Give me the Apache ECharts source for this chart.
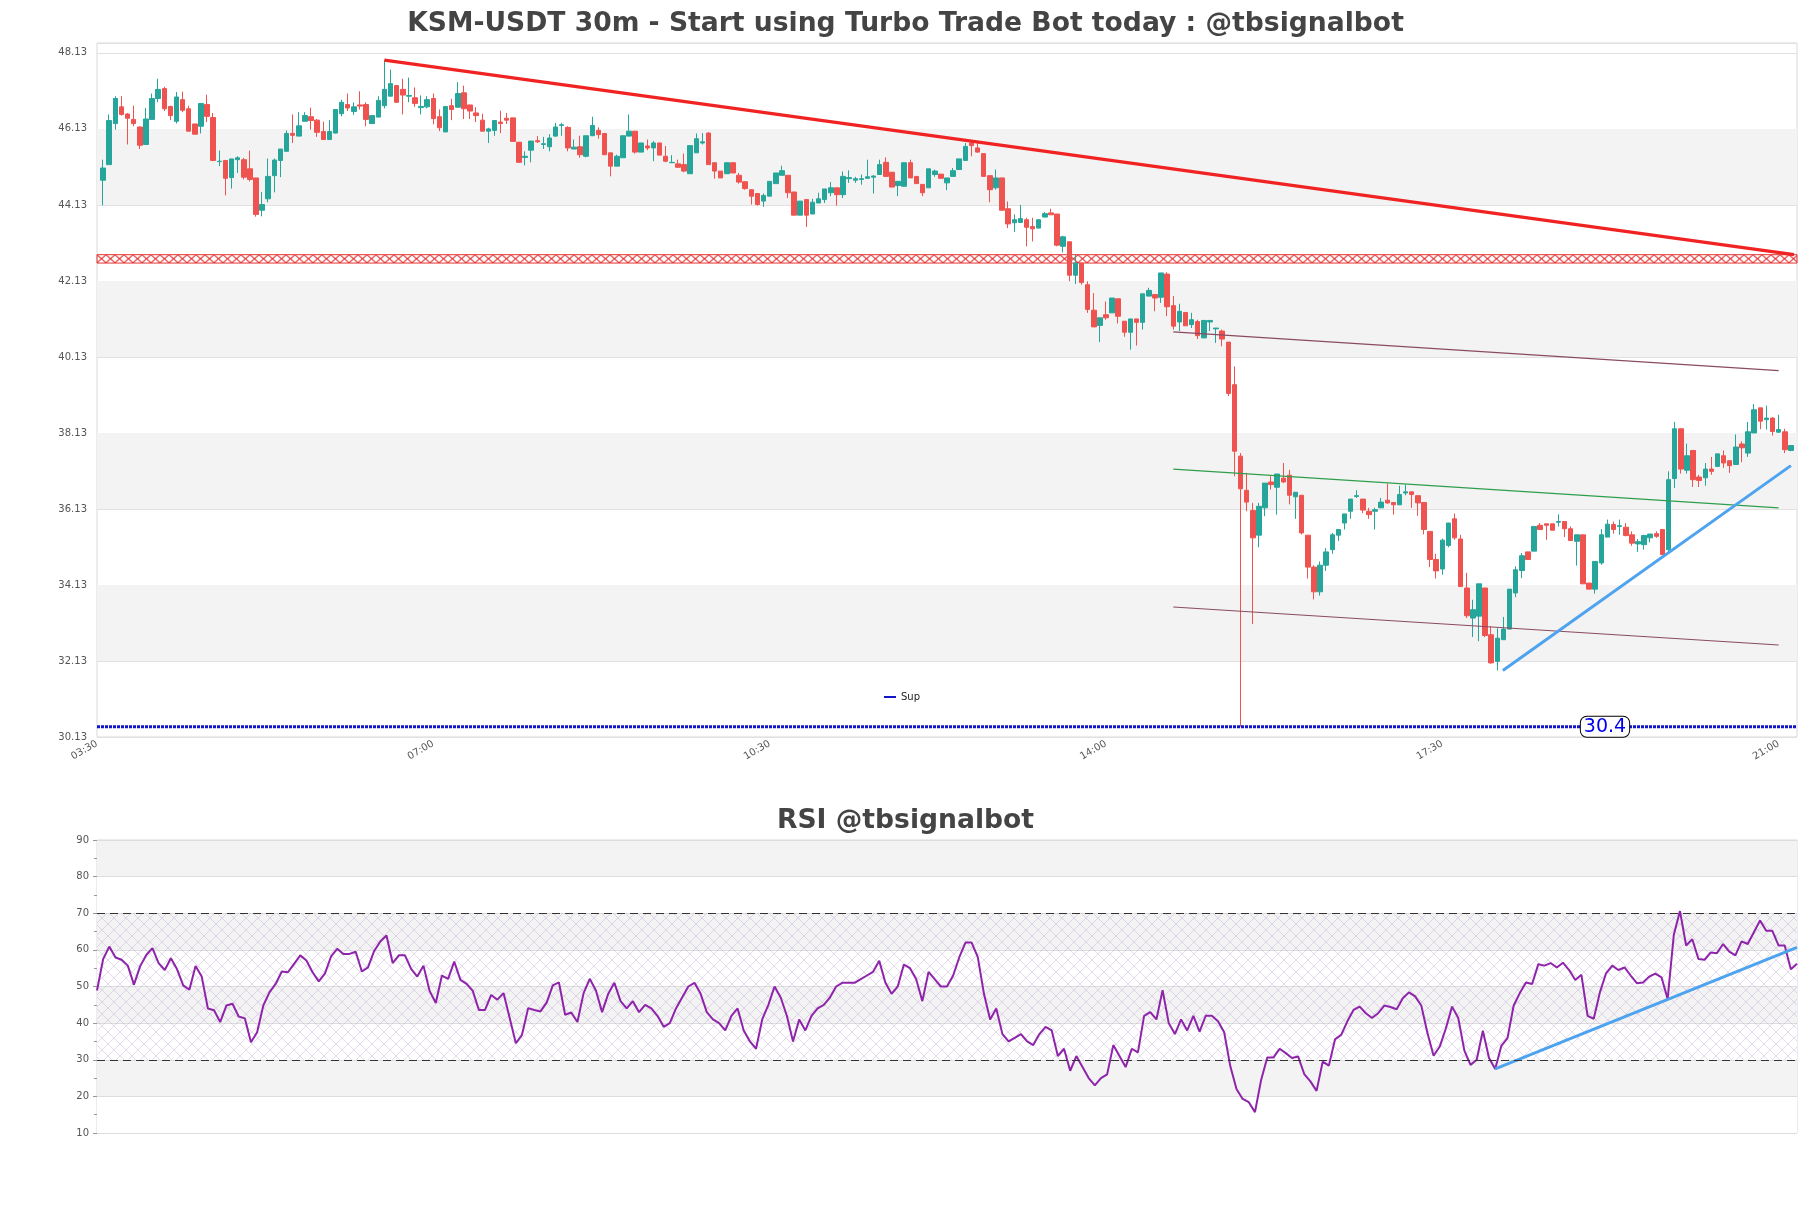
<!DOCTYPE html>
<html>
<head>
<meta charset="utf-8">
<script src="https://cdn.jsdelivr.net/npm/echarts@6/dist/echarts.min.js"></script>
<style>
html,body{margin:0;padding:0;background:#fff;}
#main{width:1811px;height:1208px;}
</style>
</head>
<body>
<div id="main"></div>
<script>
// ---------------- DATA ----------------
const mainTitle = 'KSM-USDT 30m - Start using Turbo Trade Bot today : @tbsignalbot';
const rsiTitle = 'RSI @tbsignalbot';
const timeLabels = ['03:30', '07:00', '10:30', '14:00', '17:30', '21:00'];
const timeTickStart = -1;   // candle index of first time label
const timeTickStep = 55;    // candles between time labels
const priceTickStart = 30.13;
const priceTickStep = 2;
const priceMax = 48.39;

// candles: [open, close, low, high]
const ohlc = [
[44.78,45.10,44.12,45.32],[45.19,46.35,45.19,46.51],[46.27,46.93,46.11,46.99],[46.71,46.51,46.48,46.99],
[46.52,46.41,45.72,46.55],[46.38,46.27,46.20,46.74],[46.18,45.70,45.60,46.20],[45.72,46.39,45.72,46.68],
[46.38,46.93,46.38,47.06],[46.93,47.17,46.83,47.45],[47.19,46.66,46.60,47.24],[46.72,46.48,46.36,46.74],
[46.33,46.97,46.27,47.10],[46.90,46.62,46.57,47.11],[46.66,46.07,46.07,46.74],[46.26,45.99,45.99,46.26],
[46.20,46.80,46.01,46.80],[46.77,46.46,46.31,47.03],[46.43,45.30,45.28,46.55],[45.27,45.28,45.15,45.56],
[45.30,44.83,44.38,45.30],[44.85,45.34,44.56,45.34],[45.32,45.37,44.97,45.41],[45.32,44.86,44.80,45.37],
[45.08,44.80,44.75,45.56],[44.84,43.88,43.82,44.84],[43.99,44.14,43.83,44.47],[44.29,44.88,44.20,45.35],
[44.90,45.31,44.46,45.35],[45.30,45.60,44.86,45.60],[45.54,46.01,45.54,46.09],[46.01,45.96,45.76,46.51],
[45.94,46.21,45.94,46.57],[46.33,46.48,46.33,46.57],[46.45,46.35,46.11,46.69],[46.36,46.04,45.92,46.39],
[46.06,45.85,45.85,46.32],[45.85,46.06,45.85,46.36],[46.02,46.64,46.01,46.64],[46.53,46.83,46.46,46.90],
[46.77,46.68,46.60,47.06],[46.59,46.71,46.50,46.83],[46.76,46.73,46.64,47.12],[46.77,46.38,46.20,46.83],
[46.27,46.48,46.27,46.48],[46.44,46.88,46.44,46.99],[46.74,47.17,46.67,47.94],[46.99,47.32,46.99,47.69],
[47.27,46.83,46.81,47.27],[47.17,47.02,46.51,47.45],[46.99,47.01,46.83,47.48],[46.95,46.80,46.71,47.22],
[46.69,46.72,46.51,47.01],[46.71,46.90,46.67,46.99],[46.93,46.40,46.25,47.06],[46.45,46.16,46.07,46.64],
[46.05,46.72,46.05,46.72],[46.74,46.64,46.36,46.92],[46.70,47.06,46.70,47.36],[47.08,46.66,46.39,47.27],
[46.76,46.60,46.39,46.76],[46.55,46.48,46.31,46.70],[46.36,46.07,46.07,46.53],[46.07,46.13,45.76,46.16],
[46.09,46.35,45.95,46.35],[46.31,46.27,46.02,46.61],[46.41,46.36,46.26,46.55],[46.42,45.80,45.80,46.42],
[45.78,45.25,45.25,45.78],[45.38,45.41,45.17,45.54],[45.57,45.81,45.25,45.81],[45.82,45.79,45.76,45.94],
[45.72,45.74,45.60,45.92],[45.66,45.89,45.54,45.99],[45.94,46.18,45.92,46.29],[46.22,46.24,45.95,46.29],
[46.17,45.63,45.54,46.20],[45.60,45.65,45.60,45.85],[45.66,45.45,45.37,45.95],[45.41,45.95,45.38,45.95],
[45.95,46.22,45.95,46.45],[46.09,45.98,45.87,46.17],[46.01,45.45,45.45,46.01],[45.50,45.15,44.88,45.50],
[45.15,45.41,45.15,45.45],[45.37,45.95,45.37,45.95],[45.94,46.07,45.94,46.51],[46.07,45.52,45.48,46.07],
[45.52,45.76,45.52,45.76],[45.68,45.63,45.57,45.85],[45.63,45.76,45.28,45.81],[45.76,45.44,45.44,45.76],
[45.41,45.28,45.25,45.68],[45.24,45.25,45.24,45.44],[45.21,45.12,45.10,45.32],[45.19,45.02,44.99,45.48],
[44.95,45.69,44.95,45.69],[45.50,45.87,45.50,46.01],[45.76,45.79,45.72,46.02],[46.02,45.19,45.19,46.04],
[45.24,45.02,44.82,45.24],[45.02,44.84,44.84,45.02],[44.95,45.24,44.95,45.24],[45.24,44.97,44.97,45.24],
[44.91,44.73,44.69,44.97],[44.74,44.56,44.53,44.74],[44.53,44.36,44.14,44.53],[44.43,44.14,44.11,44.43],
[44.23,44.38,44.08,44.43],[44.36,44.75,44.36,44.75],[44.69,44.97,44.69,44.97],[44.91,45.03,44.91,45.16],
[44.91,44.45,44.31,44.91],[44.47,43.86,43.86,44.47],[43.86,44.23,43.86,44.23],[44.27,43.86,43.55,44.27],
[43.89,44.20,43.89,44.29],[44.18,44.29,44.18,44.45],[44.27,44.55,44.18,44.55],[44.45,44.58,44.36,44.73],
[44.58,44.40,44.11,44.58],[44.40,44.88,44.31,45.01],[44.82,44.85,44.71,45.04],[44.78,44.82,44.71,44.87],
[44.80,44.82,44.66,44.93],[44.83,44.87,44.83,45.32],[44.86,44.89,44.43,44.91],[44.93,45.19,44.93,45.32],
[45.25,44.88,44.88,45.38],[44.99,44.60,44.60,44.99],[44.64,44.75,44.36,44.75],[44.62,45.24,44.62,45.24],
[45.24,44.84,44.84,45.32],[44.88,44.69,44.69,44.88],[44.67,44.45,44.36,44.67],[44.58,45.08,44.58,45.08],
[44.93,45.02,44.87,45.06],[44.94,44.83,44.83,44.94],[44.71,44.84,44.52,44.84],[44.88,45.03,44.88,45.10],
[45.06,45.34,45.06,45.34],[45.30,45.67,45.30,45.76],[45.76,45.69,45.41,45.80],[45.63,45.52,45.50,45.76],
[45.48,44.88,44.88,45.48],[44.90,44.53,44.20,44.90],[44.58,44.84,44.53,45.06],[44.84,43.99,43.99,44.84],
[44.03,43.63,43.52,44.22],[43.66,43.74,43.42,43.88],[43.67,43.77,43.66,44.13],[43.74,43.54,43.04,43.79],
[43.56,43.50,43.17,43.79],[43.52,43.74,43.52,43.74],[43.81,43.90,43.81,43.94],[43.92,43.87,43.87,44.03],
[43.89,43.07,43.04,43.89],[43.04,43.29,42.88,43.32],[43.16,42.28,42.12,43.16],[42.28,42.60,42.05,42.82],
[42.60,42.09,42.03,42.60],[42.03,41.38,41.29,42.12],[41.36,40.92,40.92,41.81],[40.96,41.16,40.52,41.16],
[41.24,41.16,41.11,41.59],[41.29,41.68,41.29,41.68],[41.66,41.20,41.01,41.66],[41.07,40.78,40.66,41.07],
[40.78,41.13,40.32,41.13],[41.13,41.04,40.43,41.13],[41.04,41.79,40.85,41.79],[41.73,41.88,41.73,41.95],
[41.77,41.68,41.33,41.77],[41.70,42.34,41.55,42.34],[42.31,41.45,41.20,42.36],[41.48,40.94,40.85,41.73],
[41.05,41.33,40.81,41.53],[41.30,40.95,40.95,41.30],[40.98,41.11,40.89,41.29],[41.06,40.69,40.60,41.11],
[40.63,41.09,40.63,41.09],[41.05,41.09,40.81,41.09],[40.87,40.89,40.50,40.89],[40.81,40.60,40.41,40.85],
[40.52,39.17,39.10,40.52],[39.40,37.65,36.99,39.88],[37.52,36.66,30.40,37.60],[36.62,36.31,36.07,37.08],
[36.09,35.37,33.10,36.29],[35.44,36.20,35.12,36.29],[36.16,36.81,35.94,36.81],[36.84,36.77,36.64,36.99],
[36.70,37.05,35.98,37.05],[36.94,36.84,36.81,37.34],[37.02,36.49,36.25,37.16],[36.45,36.57,35.87,36.57],
[36.49,35.50,35.46,36.49],[35.44,34.60,34.30,35.44],[34.60,33.95,33.75,34.65],[33.95,34.65,33.85,34.75],
[34.65,35.00,34.50,35.10],[35.06,35.45,34.95,35.50],[35.44,35.59,35.29,35.59],[35.76,36.00,35.59,36.00],
[36.07,36.39,35.87,36.39],[36.46,36.48,36.42,36.62],[36.39,36.10,36.02,36.39],[36.07,35.98,35.87,36.16],
[36.07,36.11,35.59,36.16],[36.16,36.31,36.16,36.42],[36.36,36.29,36.27,36.80],[36.30,36.24,35.98,36.30],
[36.24,36.51,36.24,36.74],[36.55,36.58,36.49,36.77],[36.58,36.51,36.16,36.58],[36.48,36.29,35.95,36.48],
[36.30,35.59,35.46,36.30],[35.54,34.80,34.60,35.54],[34.80,34.50,34.30,34.95],[34.55,35.31,34.40,35.35],
[35.17,35.76,35.12,35.76],[35.87,35.37,35.32,36.01],[35.34,34.09,34.09,35.45],[34.05,33.32,33.26,34.45],
[33.26,33.48,32.76,33.74],[33.31,34.16,32.65,34.16],[34.05,32.80,32.76,34.05],[32.82,32.08,32.06,33.04],
[32.12,32.73,31.88,32.99],[32.69,32.97,32.69,33.29],[32.97,34.02,32.97,34.02],[33.92,34.53,33.81,34.62],
[34.51,34.90,34.31,34.97],[35.00,34.80,34.80,35.00],[35.02,35.67,35.02,35.67],[35.70,35.59,35.59,35.76],
[35.74,35.70,35.32,35.74],[35.74,35.57,35.57,35.74],[35.78,35.80,35.67,35.99],[35.80,35.61,35.39,35.80],
[35.61,35.30,35.30,35.67],[35.28,35.45,34.64,35.45],[35.45,34.16,34.16,35.45],[34.18,34.02,34.02,34.18],
[34.02,34.75,33.90,34.75],[34.71,35.45,34.66,35.60],[35.39,35.73,35.39,35.85],[35.72,35.59,35.48,35.80],
[35.67,35.69,35.45,35.85],[35.65,35.43,35.41,35.76],[35.45,35.23,35.16,35.54],[35.21,35.27,35.00,35.34],
[35.19,35.43,35.06,35.45],[35.37,35.47,35.25,35.47],[35.48,35.41,35.37,35.54],[35.59,34.93,34.93,35.60],
[35.06,36.90,35.02,37.12],[36.93,38.24,36.68,38.42],[38.24,37.18,37.06,38.24],[37.15,37.53,37.06,37.85],
[37.67,36.90,36.71,37.67],[36.97,36.88,36.71,37.03],[36.95,37.18,36.74,37.34],[37.18,37.12,37.03,37.50],
[37.25,37.58,37.25,37.58],[37.53,37.34,37.21,37.67],[37.40,37.27,37.08,37.40],[37.30,37.76,37.30,38.09],
[37.84,37.74,37.36,37.91],[37.60,38.16,37.50,38.42],[38.13,38.74,38.13,38.89],[38.79,38.44,38.23,38.79],
[38.48,38.52,38.22,38.85],[38.52,38.17,38.06,38.55],[38.15,38.22,38.13,38.61],[38.16,37.69,37.60,38.24],
[37.67,37.80,37.65,37.80]
];

const rsi = [
48.9,57.5,60.9,57.9,57.3,55.7,50.5,55.5,58.6,60.5,56.4,54.5,57.7,54.7,50.3,49.1,55.6,52.7,44.0,43.5,
40.3,44.8,45.3,41.8,41.3,34.8,37.5,44.8,48.4,50.7,54.1,53.9,56.2,58.5,57.1,53.9,51.4,53.5,58.2,60.3,
58.9,58.9,59.5,54.1,55.2,59.7,62.3,63.9,56.4,58.5,58.5,54.8,52.7,55.7,48.8,45.5,53.0,52.1,56.8,51.8,
50.7,48.8,43.6,43.6,47.7,46.4,48.2,41.4,34.5,36.8,44.1,43.6,43.2,45.6,50.3,51.1,42.3,42.9,40.3,48.2,
52.1,48.9,43,48,51,46,44,46,43,45,44,42,39,40,44,47,50,51,48,43,
41,40,38,42,44,38,35,33,41,45,50,47,42,35,41,38,42,44,45,47,
50,51,51,51,52,53,54,57,51,48,50,56,55,52,46,54,52,50,50,53,
58,62,62,58,48,41,44,37,35,36,37,35,34,37,39,38,31,33,27,31,
28,25,23,25,26,34,31,28,33,32,42,43,41,49,40,37,41,38,42,
37.7,42.0,42.0,40.5,37.5,28.2,22.0,19.3,18.4,15.7,24.5,30.6,30.6,33.0,31.8,30.5,30.9,26.1,24.1,21.5,
29.5,28.4,35.6,36.8,40.5,43.6,44.5,42.7,41.4,42.7,44.8,44.4,43.8,46.8,48.4,47.3,44.8,37.3,31.1,33.6,
38.6,44.5,41.4,32.5,28.6,30.0,37.9,30.5,27.5,33.8,35.9,44.8,48.2,51.1,50.7,56.1,55.7,56.4,55.2,56.5,
54.5,51.8,53.2,42.0,41.2,48.4,53.6,55.7,54.5,55.2,53.0,50.9,51.1,52.7,53.5,52.5,46.6,64.1,70.6,61.2,
62.9,57.5,57.3,59.3,59.1,61.6,59.5,58.5,62.3,61.6,64.8,68.0,65.2,65.2,61.2,61.2,54.7,56.2
];

// drawn lines: [candle index, price]
const resistanceLine = [[46, 47.94], [276.5, 42.82]];
const channelUpper = [[175, 40.79], [274, 39.77]];
const channelMid = [[175, 37.18], [274, 36.16]];
const channelLower = [[175, 33.55], [274, 32.55]];
const supportTrend = [[228.9, 31.88], [276, 37.27]];
const supLevel = 30.4;
const resistanceZone = [42.60, 42.82];
const rsiTrend = [[227, 27.5], [276, 60.7]];
const rsiLevels = [30, 70];

// ---------------- LAYOUT / STYLE ----------------
const FONT = 'DejaVu Sans';
const xMin = -1, xMax = 277;
const supLabelAt = 245.6;
const UP = '#26a69a', DOWN = '#ef5350';
const SUP_COLOR = '#1414c8';

const candleData = ohlc.map((c, i) => [i, c[0], c[1], c[2], c[3]]);
const rsiData = rsi.map((v, i) => [i, v]);
const priceTicks = [];
for (let v = priceTickStart; v <= priceMax + 1e-9; v += priceTickStep) priceTicks.push(+v.toFixed(2));
const grayBands = [];
for (let k = 1; k + 1 < priceTicks.length; k += 2) grayBands.push([{yAxis: priceTicks[k]}, {yAxis: priceTicks[k + 1]}]);

function tile(w, h, draw) {
  const c = document.createElement('canvas');
  c.width = w; c.height = h;
  draw(c.getContext('2d'), w, h);
  return c;
}
const rsiHatch = tile(12, 12, (g, w, h) => {
  g.strokeStyle = 'rgba(185,160,205,0.55)'; g.lineWidth = 0.7;
  g.beginPath(); g.moveTo(0, 0); g.lineTo(w, h); g.moveTo(w, 0); g.lineTo(0, h); g.stroke();
});

function timeFmt(v) {
  const k = (v - timeTickStart) / timeTickStep;
  const r = Math.round(k);
  return (Math.abs(k - r) < 1e-6 && r >= 0 && r < timeLabels.length) ? timeLabels[r] : '';
}

const lineSeries = (name, data, color, width, extra) => Object.assign({
  name, type: 'line', xAxisIndex: 0, yAxisIndex: 0, data, symbol: 'none', silent: true,
  lineStyle: {color, width}, itemStyle: {color}, z: 3
}, extra || {});

const option = {
  animation: false,
  backgroundColor: '#ffffff',
  textStyle: {fontFamily: FONT},
  title: [
    {text: mainTitle, left: 'center', top: 11, padding: 0,
     textStyle: {fontFamily: FONT, fontWeight: 'bold', fontSize: 26.6, color: '#444444'}},
    {text: rsiTitle, left: 'center', top: 808, padding: 0,
     textStyle: {fontFamily: FONT, fontWeight: 'bold', fontSize: 26.6, color: '#444444'}}
  ],
  legend: {
    data: ['Sup'], left: 884, top: 692, padding: 0, itemWidth: 12, itemHeight: 2, icon: 'rect',
    textStyle: {fontSize: 10, color: '#222'}, selectedMode: false
  },
  grid: [
    {left: 97, top: 43, width: 1700, height: 694, show: true, borderColor: '#d9d9d9', borderWidth: 1, backgroundColor: 'transparent'},
    {left: 97, top: 840, width: 1700, height: 293, show: true, borderColor: '#d9d9d9', borderWidth: 1, backgroundColor: 'transparent'}
  ],
  xAxis: [
    {gridIndex: 0, type: 'value', min: xMin, max: xMax, interval: timeTickStep,
     axisLine: {show: false}, axisTick: {show: false}, splitLine: {show: false},
     axisLabel: {rotate: 30, fontSize: 10, color: '#555', margin: 6, formatter: timeFmt, showMaxLabel: false}},
    {gridIndex: 1, type: 'value', min: 0, max: rsi.length - 1,
     axisLine: {show: false}, axisTick: {show: false}, splitLine: {show: false}, axisLabel: {show: false}}
  ],
  yAxis: [
    {gridIndex: 0, type: 'value', min: priceTickStart, max: priceMax, interval: priceTickStep,
     axisLine: {show: false}, axisTick: {show: false},
     splitLine: {show: true, lineStyle: {color: '#e1e1e1', width: 1}},
     axisLabel: {fontSize: 10, color: '#555', margin: 10, showMaxLabel: false, formatter: v => v.toFixed(2)}},
    {gridIndex: 1, type: 'value', min: 10, max: 90, interval: 10,
     axisLine: {show: false},
     axisTick: {show: true, length: 4, lineStyle: {color: '#999'}},
     minorTick: {show: true, splitNumber: 2, length: 3, lineStyle: {color: '#999'}},
     splitLine: {show: true, lineStyle: {color: '#dddddd'}},
     splitArea: {show: true, areaStyle: {color: ['#ffffff', '#f3f3f3']}},
     axisLabel: {fontSize: 10, color: '#555', margin: 8}}
  ],
  series: [
    {name: 'bands', type: 'line', xAxisIndex: 0, yAxisIndex: 0, data: [], silent: true,
     markArea: {silent: true, itemStyle: {color: '#f3f3f3'}, data: grayBands}},
    {name: 'KSM', type: 'candlestick', xAxisIndex: 0, yAxisIndex: 0, data: candleData, barWidth: 5, silent: true,
     itemStyle: {color: UP, color0: DOWN, borderColor: UP, borderColor0: DOWN, borderWidth: 1}},
    lineSeries('Sup', [[xMin, supLevel], [xMax, supLevel]], SUP_COLOR, 3, {
      lineStyle: {color: SUP_COLOR, width: 3, type: [3, 1]},
      markPoint: {silent: true, symbol: 'rect', symbolSize: 0,
        data: [{coord: [supLabelAt, supLevel], value: supLevel}],
        label: {show: true, position: 'inside', formatter: p => String(p.value), color: '#0000ee', fontSize: 19,
          backgroundColor: '#ffffff', borderColor: '#000', borderWidth: 1, borderRadius: 6, padding: [1, 3, 0, 3]}}
    }),
    lineSeries('resistance', resistanceLine, '#f02222', 3.2, {id: 'hatch',
      markArea: {silent: true, itemStyle: {color: 'rgba(0,0,0,0)', borderColor: '#e43434', borderWidth: 1},
        data: [[{yAxis: resistanceZone[0]}, {yAxis: resistanceZone[1]}]]}}),
    lineSeries('chanUp', channelUpper, '#8a4a62', 1.2),
    lineSeries('chanMid', channelMid, '#2f9e4c', 1.2),
    lineSeries('chanLow', channelLower, '#8a4a62', 1.2),
    lineSeries('supTrend', supportTrend, '#4ea3ef', 3),
    {name: 'RSI', type: 'line', xAxisIndex: 1, yAxisIndex: 1, data: rsiData, symbol: 'none', silent: true,
     lineStyle: {color: '#8e24aa', width: 2}, z: 3,
     markArea: {silent: true, itemStyle: {color: {image: rsiHatch, repeat: 'repeat'}},
       data: [[{yAxis: rsiLevels[0]}, {yAxis: rsiLevels[1]}]]},
     markLine: {silent: true, symbol: 'none', label: {show: false},
       lineStyle: {color: '#333', width: 1.2, type: [8, 5]},
       data: rsiLevels.map(v => ({yAxis: v}))}},
    {name: 'rsiTrend', type: 'line', xAxisIndex: 1, yAxisIndex: 1, data: rsiTrend, symbol: 'none', silent: true,
     lineStyle: {color: '#4ea3ef', width: 3}, z: 4}
  ]
};

const chart = echarts.init(document.getElementById('main'), null, {renderer: 'canvas'});
chart.setOption(option);

// red X-hatch resistance zone, aligned with the zone in pixels
const yTop = chart.convertToPixel({yAxisIndex: 0}, resistanceZone[1]);
const yBot = chart.convertToPixel({yAxisIndex: 0}, resistanceZone[0]);
const xLeft = chart.convertToPixel({xAxisIndex: 0}, xMin);
const hz = Math.max(2, Math.round(yBot - yTop));
const xTile = tile(9, hz, (g, w, h) => {
  g.strokeStyle = '#e43434'; g.lineWidth = 1.1;
  g.beginPath(); g.moveTo(0, 0); g.lineTo(w, h); g.moveTo(w, 0); g.lineTo(0, h); g.stroke();
});
chart.setOption({series: [{id: 'hatch', markArea: {itemStyle: {color: {image: xTile, repeat: 'repeat', x: xLeft, y: yTop}}}}]});
</script>
</body>
</html>
